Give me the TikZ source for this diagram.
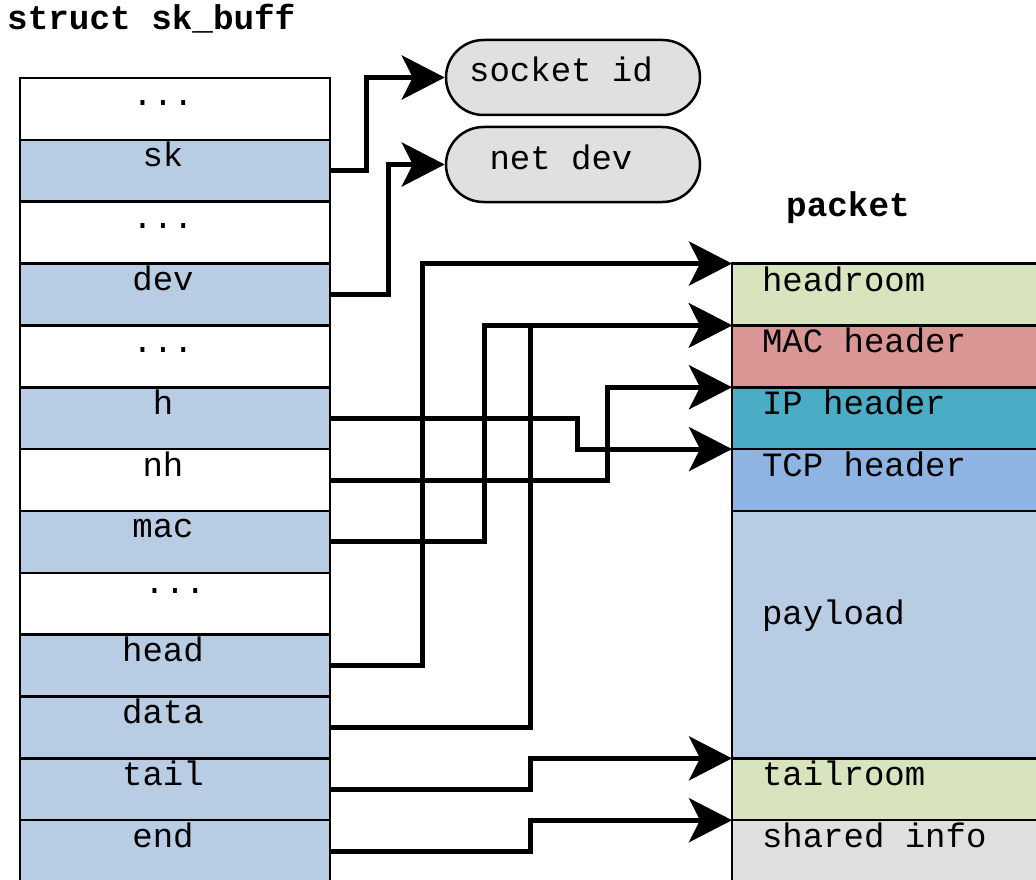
\documentclass[tikz,border=0pt]{standalone}
\usepackage{fontspec}
\setmonofont{Liberation Mono}
\usetikzlibrary{arrows.meta,shapes.misc}

\definecolor{fieldblue}{HTML}{B8CCE4}
\definecolor{roomgreen}{HTML}{D7E4BD}
\definecolor{macred}{HTML}{D99694}
\definecolor{ipteal}{HTML}{4BACC6}
\definecolor{tcpblue}{HTML}{8EB4E3}
\definecolor{infogrey}{HTML}{DFDFDF}
\definecolor{objgrey}{HTML}{E0E0E0}

% left-aligned label inside a packet region
\newcommand\regionlabel[1]{\makebox[262pt][l]{#1}}

\begin{document}
\begin{tikzpicture}[x=1pt,y=-1pt,
  font=\ttfamily\fontsize{34}{40}\selectfont,
  % one member of struct sk_buff
  field/.style={draw, line width=2.5pt, fill=white, minimum width=310pt,
    minimum height=61.85pt, inner sep=0pt, outer sep=0pt,
    anchor=north west, text height=20pt, text depth=27.8pt},
  ptr/.style={field, fill=fieldblue},
  % one region of the packet buffer
  region/.style={draw, line width=2.5pt, minimum height=61.85pt,
    inner xsep=30pt, inner ysep=0pt, outer sep=0pt,
    anchor=north west, text height=20pt, text depth=26.8pt},
  % referenced kernel objects
  obj/.style={rounded rectangle, draw, line width=2.5pt, fill=objgrey,
    minimum width=254pt, minimum height=75pt, inner sep=0pt,
    text height=24pt, text depth=15pt},
  heading/.style={anchor=base west, inner sep=0pt,
    font=\ttfamily\bfseries\fontsize{34.3}{40}\selectfont},
  conn/.style={line width=5pt,
    -{Stealth[length=43pt,width=44pt,inset=11pt]}}
]
\useasboundingbox (0,0) rectangle (1036,880);
\clip (0,0) rectangle (1036,880);

% headings
\node[heading] (skbtitle) at (7,30) {struct sk\_buff};
\node[heading] (pkttitle) at (786,216) {packet};

% struct sk_buff members
\node[field] (f0) at (20,78) {...\hspace*{24pt}};
\node[ptr]   (fsk)   at (f0.south west)   {sk\hspace*{24pt}};
\node[field] (f2)    at (fsk.south west)  {...\hspace*{24pt}};
\node[ptr]   (fdev)  at (f2.south west)   {dev\hspace*{24pt}};
\node[field] (f4)    at (fdev.south west) {...\hspace*{24pt}};
\node[ptr]   (fh)    at (f4.south west)   {h\hspace*{24pt}};
\node[field] (fnh)   at (fh.south west)   {nh\hspace*{24pt}};
\node[ptr]   (fmac)  at (fnh.south west)  {mac\hspace*{24pt}};
\node[field, text depth=39.8pt] (f8) at (fmac.south west) {...};
\node[ptr]   (fhead) at (f8.south west)   {head\hspace*{24pt}};
\node[ptr]   (fdata) at (fhead.south west) {data\hspace*{24pt}};
\node[ptr]   (ftail) at (fdata.south west) {tail\hspace*{24pt}};
\node[ptr]   (fend)  at (ftail.south west) {end\hspace*{24pt}};

% objects pointed to by sk and dev
\node[obj] (sock) at (573,77.5)  {socket id\hspace*{24pt}};
\node[obj] (ndev) at (573,164.5) {net dev\hspace*{24pt}};

% packet buffer layout
\node[region, fill=roomgreen] (phr)   at (732,263.55)      {\regionlabel{headroom}};
\node[region, fill=macred]    (pmac)  at (phr.south west)  {\regionlabel{MAC header}};
\node[region, fill=ipteal]    (pip)   at (pmac.south west) {\regionlabel{IP header}};
\node[region, fill=tcpblue]   (ptcp)  at (pip.south west)  {\regionlabel{TCP header}};
\node[region, fill=fieldblue, minimum height=247.4pt, text depth=40.2pt]
                              (ppay)  at (ptcp.south west) {\regionlabel{payload}};
\node[region, fill=roomgreen] (ptail) at (ppay.south west) {\regionlabel{tailroom}};
\node[region, fill=infogrey]  (pinfo) at (ptail.south west) {\regionlabel{shared info}};

% pointers
\draw[conn] (fsk.east)   -- ++(36,0)  |- (sock.west);
\draw[conn] (fdev.east)  -- ++(58,0)  |- (ndev.west);
\draw[conn] (fhead.east) -- ++(92,0)  |- (phr.north west);
\draw[conn] (fmac.east)  -- ++(154,0) |- (pmac.north west);
\draw[conn] (fdata.east) -- ++(200,0) |- (pmac.north west);
\draw[conn] (fh.east)    -- ++(247,0) |- (ptcp.north west);
\draw[conn] (fnh.east)   -- ++(277,0) |- (pip.north west);
\draw[conn] (ftail.east) -- ++(200,0) |- (ptail.north west);
\draw[conn] (fend.east)  -- ++(200,0) |- (pinfo.north west);
\end{tikzpicture}
\end{document}
